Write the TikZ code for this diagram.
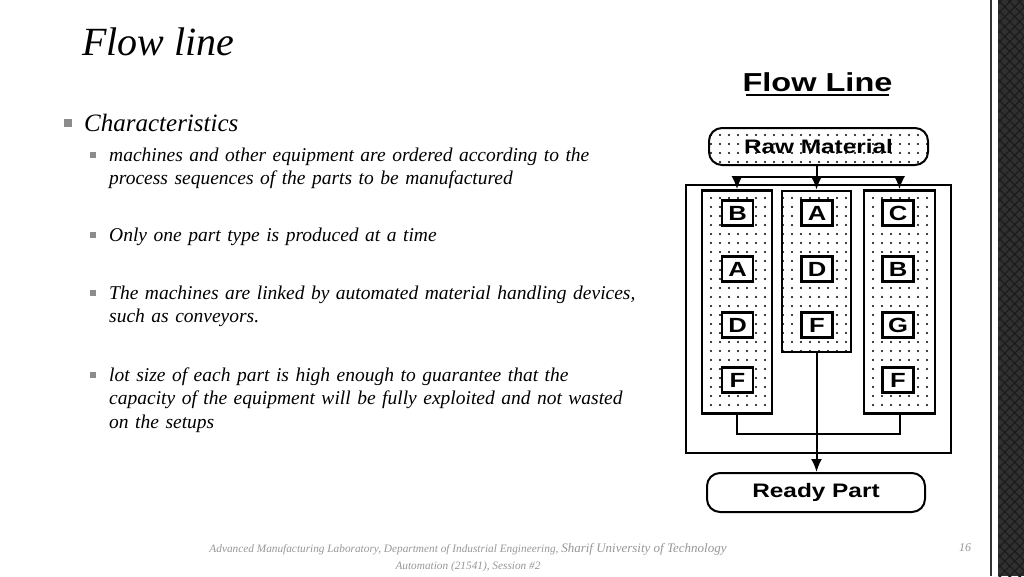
\documentclass[tikz,border=0pt]{standalone}
\usepackage{fontspec}
\usepackage{graphicx}
\setmainfont{Liberation Serif}
\newfontfamily\diagfont{Liberation Sans}
\usetikzlibrary{patterns.meta,arrows.meta}

\newcommand{\wide}[1]{\scalebox{1.25}[1]{#1}}
\tikzstyle{station}=[draw, line width=2.2pt, fill=white, minimum width=31pt, minimum height=25pt, inner sep=0pt, font=\diagfont\bfseries\fontsize{20.5}{20.5}\selectfont]
\tikzstyle{cell}=[draw, line width=2.6pt, pattern={Dots[distance=9pt, radius=1.1pt]}, inner sep=0pt]
\tikzstyle{terminal}=[draw, line width=2pt, rounded corners=13pt, inner sep=0pt, font=\diagfont\bfseries\fontsize{19.5}{19.5}\selectfont, #1]
\tikzstyle{feed}=[line width=2pt, -{Latex[length=13pt, width=11pt]}]
\tikzstyle{wire}=[line width=2pt]
\tikzstyle{item}=[anchor=north west, inner sep=0pt, text width=600pt, align=left, font=\itshape\fontsize{19.5}{23.5}\selectfont]
\tikzstyle{tick}=[fill=black!45, minimum size=#1, inner sep=0pt]
\definecolor{footgray}{RGB}{150, 150, 150}
\definecolor{carbon}{RGB}{48, 48, 48}
\definecolor{weave}{RGB}{28, 28, 28}

\begin{document}
\begin{tikzpicture}[x=1pt, y=-1pt]
	\useasboundingbox (0,0) rectangle (1024,576);
	% right edge
	\fill[carbon] (998,0) rectangle (1024,576);
	\fill[pattern={Hatch[distance=7pt, angle=45, line width=1.2pt]}, pattern color=weave] (998,0) rectangle (1024,576);
	\fill[black!80] (989.5,0) rectangle (992,576);

	% text
	\node[anchor=base west, inner sep=0pt, font=\itshape\fontsize{40}{40}\selectfont] (title) at (82,55) {Flow line};
	\node[tick=8pt] (b0) at (68,123) {};
	\node[anchor=base west, inner sep=0pt, font=\itshape\fontsize{25}{25}\selectfont] (chars) at (84,131) {Characteristics};

	\node[tick=6pt] (b1) at (93,155) {};
	\node[item] (i1) at (109,144.5) {\strut machines and other equipment are ordered according to the\\ process sequences of the parts to be manufactured};
	\node[tick=6pt] (b2) at (93,235) {};
	\node[item] (i2) at (109,224.5) {\strut Only one part type is produced at a time};
	\node[tick=6pt] (b3) at (93,293) {};
	\node[item] (i3) at (109,282.5) {\strut The machines are linked by automated material handling devices,\\ such as conveyors.};
	\node[tick=6pt] (b4) at (93,375) {};
	\node[item] (i4) at (109,364.5) {\strut lot size of each part is high enough to guarantee that the\\ capacity of the equipment will be fully exploited and not wasted\\ on the setups};

	% footer
	\node[font=\itshape\fontsize{11.3}{11.3}\selectfont, text=footgray, inner sep=0pt, anchor=base] (foot1) at (468,552) {Advanced Manufacturing Laboratory, Department of Industrial Engineering, {\fontsize{13}{13}\selectfont Sharif University of Technology}};
	\node[font=\itshape\fontsize{11.3}{11.3}\selectfont, text=footgray, inner sep=0pt, anchor=base] (foot2) at (468,569) {Automation (21541), Session \#2};
	\node[font=\itshape\fontsize{12}{12}\selectfont, text=footgray, inner sep=0pt, anchor=base] (page) at (965,551) {16};

	% flow line diagram
	\node[inner sep=0pt, font=\diagfont\bfseries\fontsize{26}{26}\selectfont] (head) at (817.5,82) {\wide{Flow Line}};
	\draw[line width=2.2pt] (746,95) -- (889,95);

	\node[draw, line width=2pt, minimum width=265pt, minimum height=268pt] (plant) at (818.5,318.5) {};
	\node[cell, minimum width=70pt, minimum height=223pt] (colL) at (737,302) {};
	\node[cell, minimum width=69pt, minimum height=161pt] (colM) at (816.5,271.5) {};
	\node[cell, minimum width=71pt, minimum height=223pt] (colR) at (899.5,302) {};

	\node[terminal={pattern={Dots[distance=9pt, radius=1.1pt]}}, minimum width=219pt, minimum height=37pt] (raw) at (818.5,146.5) {\wide{Raw Material}};
	\node[terminal, minimum width=218pt, minimum height=39pt] (ready) at (816,492.5) {\wide{Ready Part}};

	\node[station] (L1) at (737.5,213) {\wide{B}};
	\node[station] (L2) at (737.5,269) {\wide{A}};
	\node[station] (L3) at (737.5,325) {\wide{D}};
	\node[station] (L4) at (737.5,380) {\wide{F}};
	\node[station] (M1) at (817,213) {\wide{A}};
	\node[station] (M2) at (817,269) {\wide{D}};
	\node[station] (M3) at (817,325) {\wide{F}};
	\node[station] (R1) at (898,213) {\wide{C}};
	\node[station] (R2) at (898,269) {\wide{B}};
	\node[station] (R3) at (898,325) {\wide{G}};
	\node[station] (R4) at (898,380) {\wide{F}};

	\coordinate (fork) at (818,177);
	\coordinate (join) at (818,434);
	\draw[wire] (colL.north |- fork) -- (colR.north |- fork);
	\draw[feed] (colL.north |- fork) -- (colL.north);
	\draw[feed] (colR.north |- fork) -- (colR.north);
	\draw[feed] (raw.south -| colM.north) -- (colM.north);
	\draw[wire] (colL.south) |- (join) -| (colR.south);
	\draw[feed] (colM.south) -- (colM.south |- ready.north);
\end{tikzpicture}
\end{document}
